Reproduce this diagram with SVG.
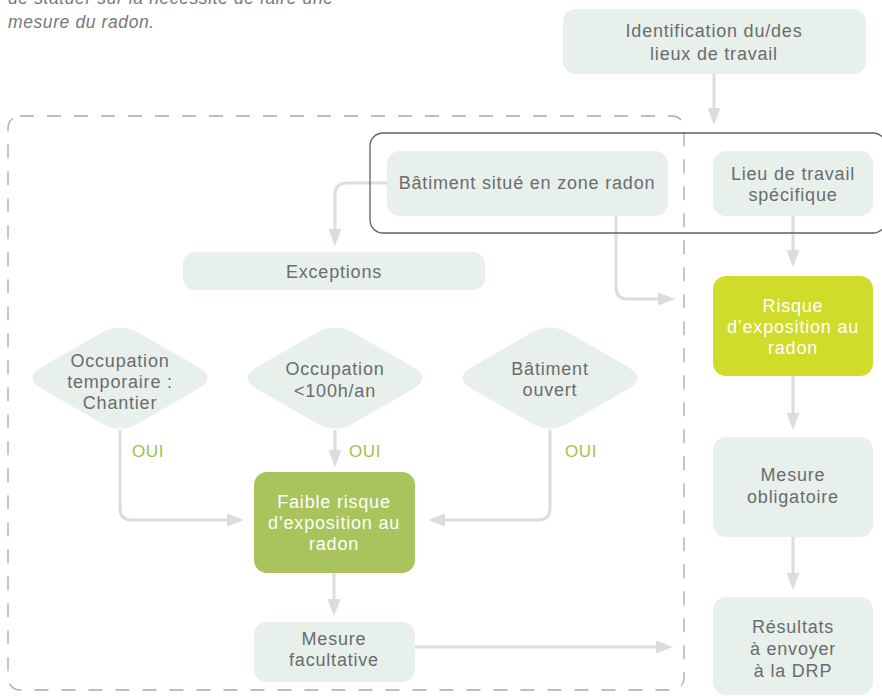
<svg xmlns="http://www.w3.org/2000/svg" width="882" height="696" viewBox="0 0 882 696">
<style>
  .box { fill: #e8f0ec; }
  .faible { fill: #a9c45d; }
  .risque { fill: #cfdc29; }
  .t { font-family: "Liberation Sans", Arial, sans-serif; font-size: 18px; letter-spacing: 0.8px; fill: #6b6c6e; text-anchor: middle; }
  .tw { font-family: "Liberation Sans", Arial, sans-serif; font-size: 18px; letter-spacing: 0.8px; fill: #ffffff; text-anchor: middle; }
  .oui { font-family: "Liberation Sans", Arial, sans-serif; font-size: 17px; letter-spacing: 0.6px; fill: #9dc150; }
  .note { font-family: "Liberation Sans", Arial, sans-serif; font-size: 17.5px; font-style: italic; letter-spacing: 0.6px; fill: #77787a; }
  .conn { fill: none; stroke: #dcdcdf; stroke-width: 3; marker-end: url(#arr); }
  .dash { fill: none; stroke: #a8a8a8; stroke-width: 1.3; stroke-dasharray: 14 13; }
  .frame { fill: none; stroke: #606060; stroke-width: 1.3; }
</style>
<defs>
  <marker id="arr" markerUnits="userSpaceOnUse" markerWidth="18" markerHeight="13" refX="0" refY="6.5" orient="auto">
    <path d="M0,0 L17,6.5 L0,13 Z" fill="#dcdcdf"/>
  </marker>
  <path id="diamond" d="M -78,-11 L -19,-45 Q 0,-56 19,-45 L 78,-11 Q 97,0 78,11 L 19,45 Q 0,56 -19,45 L -78,11 Q -97,0 -78,-11 Z" fill="#e8f0ec"/>
</defs>

<g id="note">
  <text class="note" x="8" y="4">de statuer sur la nécessité de faire une</text>
  <text class="note" x="8" y="28">mesure du radon.</text>
</g>

<g id="connectors">
  <path class="conn" d="M714,74 V108"/>
  <path class="conn" d="M387,183 H347 Q335,183 335,195 V229"/>
  <path class="conn" d="M616,216 V287 Q616,299 628,299 H658"/>
  <path class="conn" d="M793,216 V250"/>
  <path class="conn" d="M793,376 V413"/>
  <path class="conn" d="M793,537 V573"/>
  <path class="conn" d="M120,430 V508 Q120,520 132,520 H227"/>
  <path class="conn" d="M335,430 V450"/>
  <path class="conn" d="M550,430 V508 Q550,520 538,520 H445"/>
  <path class="conn" d="M334,573 V599"/>
  <path class="conn" d="M415,647 H656"/>
</g>

<g id="frames">
  <rect class="dash" x="8" y="116" width="676" height="574" rx="12"/>
  <rect class="frame" x="370" y="133" width="516" height="100" rx="13"/>
</g>

<g id="identification">
  <rect class="box" x="563" y="9" width="303" height="65" rx="13"/>
  <text class="t" x="714" y="37">Identification du/des</text>
  <text class="t" x="714" y="60">lieux de travail</text>
</g>

<g id="batiment-zone">
  <rect class="box" x="387" y="151" width="281" height="65" rx="13"/>
  <text class="t" x="527" y="189">Bâtiment situé en zone radon</text>
</g>

<g id="lieu-specifique">
  <rect class="box" x="713" y="151" width="160" height="65" rx="13"/>
  <text class="t" x="793" y="180">Lieu de travail</text>
  <text class="t" x="793" y="201">spécifique</text>
</g>

<g id="exceptions">
  <rect class="box" x="183" y="252" width="302" height="38" rx="12"/>
  <text class="t" x="334" y="278">Exceptions</text>
</g>

<g id="risque">
  <rect class="risque" x="713" y="276" width="160" height="100" rx="13"/>
  <text class="tw" x="793" y="312">Risque</text>
  <text class="tw" x="793" y="333">d’exposition au</text>
  <text class="tw" x="793" y="354">radon</text>
</g>

<g id="occupation-temporaire">
  <use href="#diamond" x="120" y="378"/>
  <text class="t" x="120" y="367">Occupation</text>
  <text class="t" x="120" y="388">temporaire :</text>
  <text class="t" x="120" y="409">Chantier</text>
</g>

<g id="occupation-100h">
  <use href="#diamond" x="335" y="378"/>
  <text class="t" x="335" y="375">Occupation</text>
  <text class="t" x="335" y="397">&lt;100h/an</text>
</g>

<g id="batiment-ouvert">
  <use href="#diamond" x="550" y="378"/>
  <text class="t" x="550" y="375">Bâtiment</text>
  <text class="t" x="550" y="396">ouvert</text>
</g>

<g id="oui-labels">
  <text class="oui" x="132" y="457">OUI</text>
  <text class="oui" x="349" y="457">OUI</text>
  <text class="oui" x="565" y="457">OUI</text>
</g>

<g id="mesure-obligatoire">
  <rect class="box" x="713" y="437" width="160" height="100" rx="13"/>
  <text class="t" x="793" y="481">Mesure</text>
  <text class="t" x="793" y="503">obligatoire</text>
</g>

<g id="faible-risque">
  <rect class="faible" x="254" y="472" width="161" height="101" rx="13"/>
  <text class="tw" x="334" y="508">Faible risque</text>
  <text class="tw" x="334" y="529">d’exposition au</text>
  <text class="tw" x="334" y="550">radon</text>
</g>

<g id="mesure-facultative">
  <rect class="box" x="254" y="622" width="161" height="60" rx="13"/>
  <text class="t" x="334" y="645">Mesure</text>
  <text class="t" x="334" y="666">facultative</text>
</g>

<g id="resultats">
  <rect class="box" x="713" y="597" width="160" height="98" rx="13"/>
  <text class="t" x="793" y="633">Résultats</text>
  <text class="t" x="793" y="655">à envoyer</text>
  <text class="t" x="793" y="677">à la DRP</text>
</g>
</svg>
